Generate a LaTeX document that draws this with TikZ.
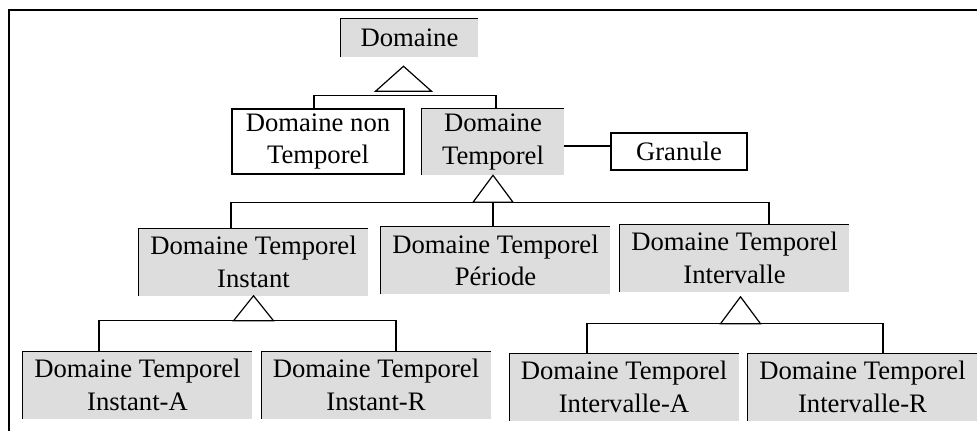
\documentclass[tikz,border=0pt]{standalone}
\usepackage{fontspec}
\setmainfont{Liberation Serif}
\usepackage{xcolor}
\usepackage{tikz}
\usetikzlibrary{calc}
\definecolor{boxgray}{RGB}{221,221,221}

\begin{document}
\begin{tikzpicture}[x=0.75pt, y=-0.75pt,
      every node/.style={font=\fontsize{20}{24.5}\selectfont, align=center, inner sep=0pt},
      plain/.style={rectangle, draw, line width=0.9pt, fill=white},
      shaded/.style={rectangle, fill=boxgray},
      wide/.style={minimum width=171.75pt, minimum height=50.25pt},
      connector/.style={line width=0.9pt},
      isa/.style={line width=0.9pt, fill=white, line join=miter}
]
      \useasboundingbox (0,0) rectangle (977,431);
      \draw[connector] (9,431) -- (9,10) -- (977,10);

      \node[shaded, minimum width=102.75pt, minimum height=28.5pt] (dom) at (409.5,38) {Domaine};
      \node[plain, minimum width=129pt, minimum height=48.75pt] (dnt) at (318,141.5) {Domaine non\\Temporel};
      \node[shaded, minimum width=106.5pt, minimum height=49.5pt] (dt) at (493,142) {Domaine\\Temporel};
      \node[plain, minimum width=102pt, minimum height=27.75pt] (gran) at (679,151.5) {Granule};
      \node[shaded, wide] (dti) at (253.5,262) {Domaine Temporel\\Instant};
      \node[shaded, wide] (dtp) at (495.5,260.5) {Domaine Temporel\\Période};
      \node[shaded, wide] (dtv) at (734.5,258) {Domaine Temporel\\Intervalle};
      \node[shaded, wide] (dtia) at (137.5,385) {Domaine Temporel\\Instant-A};
      \node[shaded, wide] (dtir) at (376,385) {Domaine Temporel\\Instant-R};
      \node[shaded, wide] (dtva) at (624,387) {Domaine Temporel\\Intervalle-A};
      \node[shaded, wide] (dtvr) at (862.5,387) {Domaine Temporel\\Intervalle-R};

      \foreach \n in {dom,dt,dti,dtp,dtv,dtia,dtir,dtva,dtvr}
            \draw[connector] (\n.south west) |- (\n.north east);

      \coordinate (top1) at ($(dom.south)+(-6,9)$);
      \draw[isa] (top1) -- ++(28,25) -- ++(-56,0) -- cycle;
      \draw[connector] ($(dnt.north)+(-4,0)$) |- ($(top1)+(0,29)$) -| ($(dt.north)+(3,0)$);

      \draw[isa] (dt.south) -- ++(20,27) -- ++(-40,0) -- cycle;
      \draw[connector] ($(dti.north)+(-22.5,0)$) |- ($(dt.south)+(0,27)$) -| ($(dtv.north)+(34.5,0)$);
      \draw[connector] (dtp.north -| dt.south) -- ($(dt.south)+(0,27)$);

      \draw[isa] (dti.south) -- ++(20,25) -- ++(-40,0) -- cycle;
      \draw[connector] ($(dtia.north)+(-38.5,0)$) |- ($(dti.south)+(0,25)$) -| ($(dtir.north)+(20,0)$);

      \coordinate (top4) at ($(dtv.south)+(6,5)$);
      \draw[isa] (top4) -- ++(20,27) -- ++(-40,0) -- cycle;
      \draw[connector] ($(dtva.north)+(-37,0)$) |- ($(top4)+(0,27)$) -| ($(dtvr.north)+(20.5,0)$);

      \draw[connector] ($(dt.east)+(0,4)$) -- ($(gran.west)+(0,-5.5)$);
\end{tikzpicture}
\end{document}
